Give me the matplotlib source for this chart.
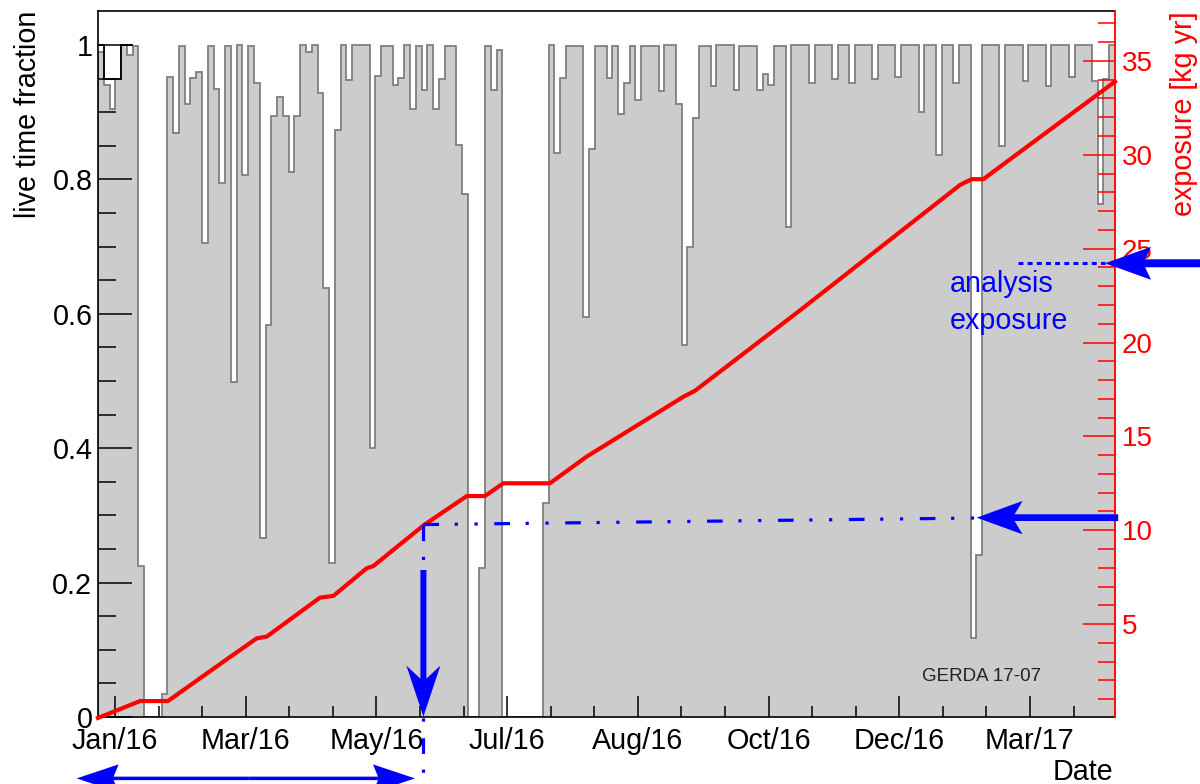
import numpy as np
import matplotlib
matplotlib.use("Agg")
import matplotlib.pyplot as plt
from matplotlib.patches import Polygon
from matplotlib.transforms import IdentityTransform
from matplotlib.ticker import FixedLocator

plt.rcParams['font.family'] = ['Liberation Sans', 'DejaVu Sans']

W, H, DPI = 1200, 784, 100

# live time fraction per time bin (uniform bins over the whole run)
live_frac = [
    0.99, 0.94, 0.905, 0.95, 1.0, 0.985, 0.998, 0.225, 0, 0,
    0, 0.034, 0.952, 0.869, 0.998, 0.912, 0.951, 0.96, 0.706, 0.998,
    0.934, 0.794, 0.998, 0.499, 1.0, 0.807, 0.998, 0.944, 0.266, 0.584,
    0.894, 0.923, 0.894, 0.811, 0.894, 1.0, 0.99, 1.0, 0.928, 0.638,
    0.229, 0.874, 1.0, 0.948, 1.0, 1.0, 1.0, 0.40, 0.954, 0.998,
    0.998, 0.941, 0.951, 1.0, 0.905, 0.998, 0.933, 1.0, 0.905, 0.949,
    0.998, 0.998, 0.851, 0.778, 0, 0, 0.222, 0.998, 0.933, 0.993,
    0, 0, 0, 0, 0, 0, 0, 0.318, 1.0, 0.84,
    0.951, 0.998, 0.998, 0.998, 0.595, 0.845, 0.998, 0.998, 0.951, 0.998,
    0.897, 0.944, 0.998, 0.918, 0.998, 0.998, 0.998, 0.932, 1.0, 1.0,
    0.912, 0.554, 0.70, 0.892, 0.998, 0.998, 0.939, 1.0, 1.0, 1.0,
    0.933, 0.998, 0.998, 0.998, 0.933, 0.957, 0.941, 0.998, 0.998, 0.729,
    1.0, 1.0, 1.0, 0.944, 1.0, 1.0, 1.0, 0.949, 1.0, 1.0,
    0.944, 1.0, 1.0, 1.0, 0.949, 1.0, 1.0, 1.0, 0.952, 1.0,
    1.0, 1.0, 0.90, 1.0, 1.0, 0.836, 1.0, 1.0, 0.944, 1.0,
    1.0, 0.117, 0.241, 1.0, 1.0, 1.0, 0.849, 1.0, 1.0, 1.0,
    0.946, 1.0, 1.0, 1.0, 0.939, 1.0, 1.0, 1.0, 0.952, 1.0,
    1.0, 1.0, 0.946, 0.763, 0.95, 1.0,
]
# outline of the first days of the run
start_frame = [1.0, 0.95, 0.95, 0.95, 1.0, 1.0]
run_days = 471.0

# cumulative exposure [kg yr] vs day of the run
exp_day = [0, 19.5, 32.4, 59.6, 73.5, 78.1, 102.8, 109.0, 124.4, 127.5,
           151.0, 170.8, 179.2, 187.7, 209.3, 226.3, 271.1, 276.5, 324.3,
           399.2, 404.6, 410.0, 471.0]
exp_kgyr = [0, 0.90, 0.90, 3.12, 4.24, 4.33, 6.41, 6.50, 7.97, 8.09,
            10.28, 11.82, 11.82, 12.50, 12.50, 13.92, 17.11, 17.43, 21.64,
            28.39, 28.70, 28.70, 33.90]

# time axis labels
date_labels = ['Jan/16', 'Mar/16', 'May/16', 'Jul/16', 'Aug/16', 'Oct/16', 'Dec/16', 'Mar/17']
first_label_day = 7.9
label_step = 60.53

# analysis exposure markers
cut_day = 150.7
cut_line_end_day = 406.2
cut_line_kgyr = (10.30, 10.65)
low_arrow_kgyr = 10.67
top_arrow_kgyr = 24.22

blue = '#0000ff'

fig = plt.figure(figsize=(W / DPI, H / DPI), dpi=DPI)
ax = fig.add_axes([98 / W, 67 / H, 1017 / W, 706 / H])

edges = np.linspace(0, run_days, len(live_frac) + 1)
ax.stairs(live_frac, edges, fill=True, color='#cccccc', zorder=1)
ax.stairs(live_frac, edges, color='#7f7f7f', lw=1.3, zorder=1.1)
ax.stairs(start_frame, edges[:len(start_frame) + 1], baseline=None, color='black', lw=1.3, zorder=1.2)
ax.set_xlim(0, run_days)
ax.set_ylim(0, 1.0506)

major = first_label_day + label_step * np.arange(len(date_labels))
ax.set_xticks(major, date_labels)
ax.xaxis.set_minor_locator(FixedLocator(first_label_day + label_step / 3 * np.arange(23)))
ax.set_yticks([0, 0.2, 0.4, 0.6, 0.8, 1.0], ['0', '0.2', '0.4', '0.6', '0.8', '1'])
ax.yaxis.set_minor_locator(FixedLocator(np.arange(0.05, 1.01, 0.05)))
ax.tick_params(axis='x', which='major', direction='in', length=15, width=1.1,
               labelsize=20.7, pad=7, top=False)
ax.tick_params(axis='x', which='minor', direction='in', length=8, width=1.1, top=False)
ax.tick_params(axis='y', which='major', direction='in', length=24.5, width=1.1,
               labelsize=20.7, pad=4, right=False)
ax.tick_params(axis='y', which='minor', direction='in', length=13, width=1.1, right=False)
for s in ['top', 'left', 'bottom']:
    ax.spines[s].set_linewidth(1.2)
ax.spines['right'].set_visible(False)

# exposure on the right-hand axis
ax2 = ax.twinx()
ax2.set_ylim(0.05, 37.66)
ax2.plot(exp_day, exp_kgyr, color='red', lw=3.0, solid_joinstyle='round',
         clip_on=False, zorder=3)
ax2.set_yticks([5, 10, 15, 20, 25, 30, 35])
ax2.yaxis.set_minor_locator(FixedLocator(np.arange(1, 38)))
ax2.tick_params(axis='y', which='major', direction='in', length=23, width=1.1,
                colors='red', labelsize=20, pad=5)
ax2.tick_params(axis='y', which='minor', direction='in', length=12, width=1.1, colors='red')
for s in ['top', 'left', 'bottom']:
    ax2.spines[s].set_visible(False)
ax2.spines['right'].set_color('red')
ax2.spines['right'].set_linewidth(1.3)

# analysis cut lines
dashdot = (0, (4.9, 4.9, 1, 5.2, 1, 5.2))
ax2.plot([cut_day, cut_line_end_day], list(cut_line_kgyr), color=blue, lw=2.3,
         linestyle=dashdot, clip_on=False, zorder=4)
ax2.plot([cut_day, cut_day], [cut_line_kgyr[0], -3.55], color=blue, lw=2.3,
         linestyle=dashdot, clip_on=False, zorder=4)
ax2.plot([426.2, 466.4], [top_arrow_kgyr, top_arrow_kgyr], color=blue, lw=2.2,
         linestyle=(0, (1.6, 1.4)), clip_on=False, zorder=4)
ax2.text(394.6, 22.13, 'analysis\nexposure', color=blue, fontsize=20.7,
         ha='left', va='center', linespacing=1.4)
ax.text(409.4, 0.06, 'GERDA 17-07', fontsize=13.5, ha='center', va='center', color='#222222')


def arrow(tail, tip, shaft, head_len, head_half, notch):
    # filled arrow with swept-back head, sizes in pixels
    p0 = ax2.transData.transform(tail)
    p1 = ax2.transData.transform(tip)
    u = (p1 - p0) / np.hypot(*(p1 - p0))
    n = np.array([-u[1], u[0]])
    base = p1 - head_len * u
    join = p1 - (head_len - notch) * u
    s = shaft / 2
    pts = [p1, base + head_half * n, join + s * n, p0 + s * n,
           p0 - s * n, join - s * n, base - head_half * n]
    fig.add_artist(Polygon(pts, closed=True, facecolor=blue, edgecolor='none',
                           transform=IdentityTransform(), zorder=5))


arrow((cut_day, 7.88), (cut_day, 0.07), 6, 51, 17, 13)
arrow((472.5, low_arrow_kgyr), (406.9, low_arrow_kgyr), 6.7, 46, 16.7, 8)
arrow((512.7, top_arrow_kgyr), (466.4, top_arrow_kgyr), 8, 46, 16.5, 6)
arrow((70, -3.22), (-9.9, -3.22), 3.5, 42, 14, 5)
arrow((70, -3.22), (146.8, -3.22), 3.5, 42, 14, 5)

fig.text(28 / W, 1 - 11 / H, 'live time fraction', rotation=90, ha='center', va='top', fontsize=20.7)
fig.text(1184 / W, 1 - 11 / H, 'exposure [kg yr]', rotation=90, ha='center', va='top',
         fontsize=20.7, color='red')
fig.text(1113 / W, 1 - 780 / H, 'Date', ha='right', va='baseline', fontsize=20.7)

fig.savefig('out.png', dpi=DPI)
